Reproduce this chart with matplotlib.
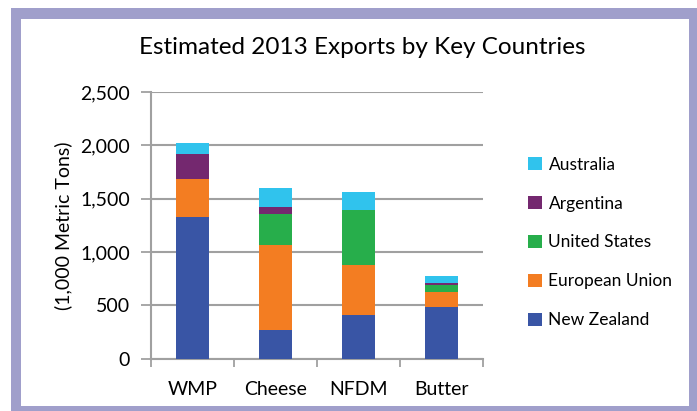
import numpy as np
import matplotlib.pyplot as plt
from matplotlib.patches import Rectangle

plt.rcParams['font.family'] = ['Lato', 'DejaVu Sans']

#-------- data --------#
products = ['WMP', 'Cheese', 'NFDM', 'Butter']
new_zealand = [1325, 268, 408, 482]
european_union = [355, 800, 472, 140]
united_states = [0, 285, 515, 65]
argentina = [240, 65, 0, 25]
australia = [100, 185, 165, 59]

series = [('New Zealand', new_zealand, '#3955A5'),
          ('European Union', european_union, '#F37D22'),
          ('United States', united_states, '#27AE4B'),
          ('Argentina', argentina, '#74286F'),
          ('Australia', australia, '#30C3ED')]

W, H = 697, 411
fig = plt.figure(figsize=(W/100, H/100), dpi=100)

# lavender frame
fig.patches.append(Rectangle((11/W, 0), 1, 1 - 8/H, transform=fig.transFigure,
                             facecolor='#A09FCB', edgecolor='none', zorder=-2))
fig.patches.append(Rectangle((21/W, 5/H), (689-21)/W, (406-19)/H, transform=fig.transFigure,
                             facecolor='white', edgecolor='none', zorder=-1))

ax = fig.add_axes([151/W, 52.5/H, 332/W, 266.5/H])
ax.set_facecolor('none')

x = np.arange(len(products))
bottom = np.zeros(len(products))
handles = []
for name, vals, col in series:
    b = ax.bar(x, vals, width=0.4, bottom=bottom, color=col, label=name, zorder=3)
    handles.append(b)
    bottom += np.array(vals)

ax.set_xlim(-0.5, 3.5)
ax.set_ylim(0, 2500)
ax.set_yticks(np.arange(0, 2501, 500))
ax.set_yticklabels([f'{v:,}' for v in range(0, 2501, 500)], fontsize=14)
ax.yaxis.grid(True, color='#A0A0A0', lw=1.5, zorder=0)
ax.set_axisbelow(True)

ax.set_xticks(x)
ax.set_xticklabels(products, fontsize=14)
ax.set_xticks(np.arange(-0.5, 3.6, 1), minor=True)
ax.tick_params(axis='x', which='major', length=0, pad=16)
ax.tick_params(axis='x', which='minor', length=6, color='#A0A0A0', width=1.3)
ax.tick_params(axis='y', length=7, color='#A0A0A0', width=1.3, pad=8)

for s in ['top', 'right']:
    ax.spines[s].set_visible(False)
for s in ['left', 'bottom']:
    ax.spines[s].set_color('#A0A0A0')
    ax.spines[s].set_linewidth(1.5)

ax.set_ylabel('(1,000 Metric Tons)', fontsize=14, labelpad=6)
fig.text(362/W, 1 - 48/H, 'Estimated 2013 Exports by Key Countries',
         ha='center', va='center', fontsize=17.5)

leg = fig.legend(handles[::-1], [s[0] for s in series][::-1], loc='upper left',
                 bbox_to_anchor=(512/W, 1 - 141/H), frameon=False, fontsize=12.5,
                 handlelength=0.8, handleheight=0.8, handletextpad=0.4,
                 labelspacing=1.32)

fig.savefig('out.png', dpi=100)
